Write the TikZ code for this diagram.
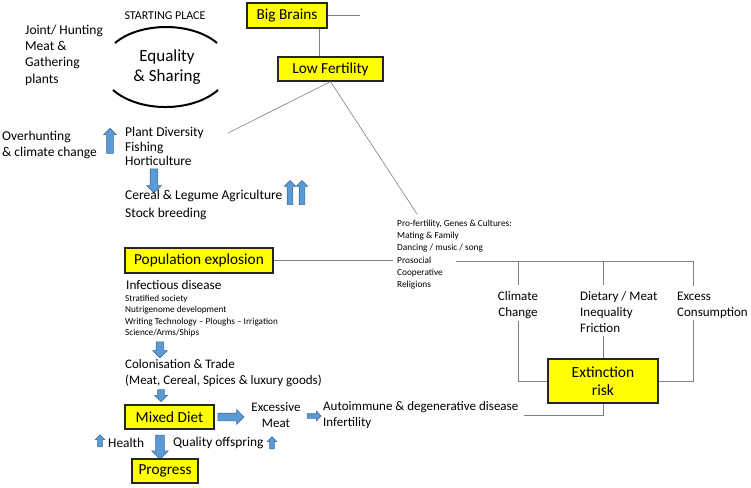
\documentclass[tikz,border=0pt]{standalone}
\usepackage{fontspec}
\setmainfont{Carlito}
\usetikzlibrary{shapes.arrows}
\definecolor{boxyellow}{HTML}{FFFF00}
\definecolor{arrblue}{HTML}{5B9BD5}
\definecolor{arredge}{HTML}{41719C}
\definecolor{lingray}{HTML}{7F7F7F}
\newcommand{\fsz}[2]{\fontsize{#1}{#2}\selectfont}
\begin{document}
\begin{tikzpicture}[x=1pt,y=-1pt,
  ybox/.style={draw=black!85,line width=1.2pt,fill=boxyellow,inner sep=0pt,font=\fsz{15.3}{18}},
  txt/.style={inner sep=0pt,align=left,anchor=west},
  conn/.style={draw=lingray,line width=0.9pt},
  barrow/.style args={#1/#2/#3}{single arrow,draw=arredge,fill=arrblue,line width=0.6pt,
    inner xsep=0pt,inner ysep=#2,minimum width=0pt,minimum height=#1,single arrow head extend=#3}]
\useasboundingbox (0,0) rectangle (751,487);
% starting place
\node[inner sep=0pt,font=\fsz{12}{14}] (start) at (165,16) {STARTING PLACE};
\node[txt,font=\fsz{13.5}{16.3}] (joint) at (25,55) {Joint/ Hunting\\Meat \&\\Gathering\\plants};
\node[align=center,inner sep=0pt,font=\fsz{17}{20}] (equal) at (167,67) {Equality\\\& Sharing};
\draw[line width=2pt] (115,43) .. controls (140,21.7) and (192,21.7) .. (217,43);
\draw[line width=2pt] (113,90) .. controls (139,112.7) and (192,112.7) .. (218,90);
% brains and fertility
\node[ybox,minimum width=80pt,minimum height=25pt] (brains) at (287,15.5) {Big Brains};
\node[ybox,minimum width=105pt,minimum height=24pt] (lowfert) at (330.5,69) {Low Fertility};
\draw[conn] (brains.east) -- ++(32,0);
\coordinate (bv) at ([xshift=-8pt]brains.south east);
\draw[conn] (bv) -- (bv |- lowfert.north);
\coordinate (plantend) at (228,133);
\coordinate (profend) at (417,214);
\draw[conn,line width=0.6pt] (lowfert.south) -- (plantend);
\draw[conn,line width=0.6pt] (lowfert.south) -- (profend);
% early agriculture
\node[txt,font=\fsz{13.5}{16}] (overhunt) at (2,145) {Overhunting\\\& climate change};
\node[barrow=25pt/3pt/3pt,rotate=90] (up1) at (110,142.5) {};
\node[txt,font=\fsz{13.5}{14.5}] (plant) at (125,146.5) {Plant Diversity\\Fishing\\Horticulture};
\node[barrow=24pt/3.5pt/3.5pt,rotate=-90] (dn1) at (154,179) {};
\node[txt,font=\fsz{13.5}{18}] (cereal) at (125,205) {Cereal \& Legume Agriculture\\Stock breeding};
\node[barrow=24pt/2.5pt/3pt,rotate=90] (up2) at (290,194) {};
\node[barrow=24pt/2.5pt/3pt,rotate=90] (up3) at (302,194) {};
% pro-fertility
\node[txt,font=\fsz{9.3}{12.3}] (profert) at (397,254.5) {Pro-fertility, Genes \& Cultures:\\Mating \& Family\\Dancing / music / song\\Prosocial\\Cooperative\\Religions};
\node[ybox,minimum width=148pt,minimum height=25pt] (popexp) at (199,260.5) {Population explosion};
\draw[conn,shorten >=4pt] (popexp.east) -- (popexp.east -| profert.west);
% extinction branch
\coordinate (barL) at (456,261);
\coordinate (dtop) at (603,261);
\coordinate (etop) at (693,261);
\draw[conn] (barL) -- (etop);
\node[align=center,inner sep=0pt,font=\fsz{13}{16}] (climate) at (518,305) {Climate\\Change};
\node[txt,font=\fsz{13}{16}] (dietary) at (580,312) {Dietary / Meat\\Inequality\\Friction};
\node[txt,font=\fsz{13}{16}] (excons) at (677,305) {Excess\\Consumption};
\node[ybox,minimum width=110pt,minimum height=44pt,align=center,font=\fsz{15.5}{18}] (extinct) at (603,381) {Extinction\\risk};
\draw[conn,shorten >=6pt] (climate.north |- barL) -- (climate.north);
\draw[conn,shorten >=6pt] (dtop) -- (dtop |- dietary.north);
\draw[conn,shorten >=6pt] (etop) -- (etop |- excons.north);
\draw[conn,shorten <=2pt] (climate.south) |- (extinct.west);
\draw[conn,shorten <=3pt] (extinct.north |- dietary.south) -- (extinct.north);
\draw[conn,shorten <=2pt] (etop |- excons.south) |- (extinct.east);
% later history
\node[txt,font=\fsz{13.2}{16}] (infect) at (126,285) {Infectious disease};
\node[txt,font=\fsz{9.2}{11.3}] (strat) at (125,316) {Stratified society\\Nutrigenome development\\Writing Technology – Ploughs – Irrigation\\Science/Arms/Ships};
\node[barrow=16pt/3.5pt/3.5pt,rotate=-90] (dn2) at (160,348) {};
\node[txt,font=\fsz{13}{16}] (colon) at (125,373) {Colonisation \& Trade\\(Meat, Cereal, Spices \& luxury goods)};
\node[barrow=12pt/3pt/3pt,rotate=-90] (dn3) at (161,394) {};
\node[ybox,minimum width=89pt,minimum height=24pt] (mixed) at (169.5,417) {Mixed Diet};
\node[barrow=26pt/3.5pt/3.5pt] (rt1) at (229,417) {};
\node[align=center,inner sep=0pt,font=\fsz{13}{16}] (exmeat) at (276,415) {Excessive\\Meat};
\node[barrow=14pt/2pt/2.5pt] (rt2) at (313,416) {};
\node[txt,font=\fsz{13}{16}] (autoimm) at (323,415) {Autoimmune \& degenerative disease\\Infertility};
\draw[conn,shorten >=6pt] (extinct.south) |- (autoimm.east);
\node[barrow=12pt/2pt/2.5pt,rotate=90] (up4) at (100,442) {};
\node[txt,font=\fsz{13.4}{16}] (health) at (108,443) {Health};
\node[barrow=24pt/4pt/4pt,rotate=-90] (dn4) at (160,445) {};
\node[txt,font=\fsz{13.4}{16}] (quality) at (173,443) {Quality offspring};
\node[barrow=12pt/2pt/2.5pt,rotate=90] (up5) at (272,444) {};
\node[ybox,minimum width=66pt,minimum height=24pt] (progress) at (165,471) {Progress};
\end{tikzpicture}
\end{document}
